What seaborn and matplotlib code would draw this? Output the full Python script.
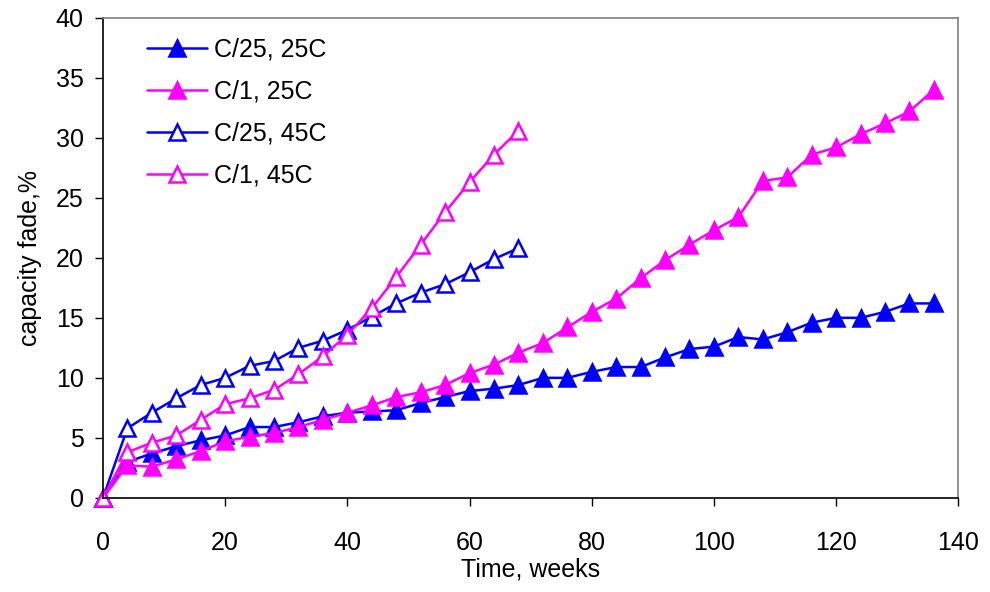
import numpy as np
import pandas as pd
import seaborn as sns
from matplotlib import pyplot as plt

# weeks (sampled every 4 weeks)
weeks_long = list(range(0, 137, 4))
weeks_short = list(range(0, 69, 4))

# C/25, 25C
c25_25 = [0, 3.0, 3.7, 4.3, 4.8, 5.2, 5.9, 5.9, 6.3, 6.8, 7.1, 7.2, 7.3, 7.9, 8.4,
          8.9, 9.1, 9.4, 10.0, 10.0, 10.5, 10.9, 10.9, 11.7, 12.4, 12.6, 13.4, 13.2,
          13.8, 14.6, 15.0, 15.0, 15.5, 16.2, 16.2]
# C/1, 25C
c1_25 = [0, 2.7, 2.6, 3.2, 3.9, 4.7, 5.1, 5.4, 5.9, 6.5, 7.1, 7.7, 8.4, 8.8, 9.4,
         10.4, 11.1, 12.1, 12.9, 14.2, 15.5, 16.6, 18.3, 19.8, 21.1, 22.3, 23.4, 26.4,
         26.7, 28.6, 29.2, 30.3, 31.2, 32.2, 34.0]
# C/25, 45C
c25_45 = [0, 5.8, 7.1, 8.3, 9.4, 10.0, 11.0, 11.4, 12.5, 13.1, 14.0, 15.1, 16.2,
          17.1, 17.8, 18.8, 19.9, 20.8]
# C/1, 45C
c1_45 = [0, 3.8, 4.6, 5.2, 6.5, 7.8, 8.3, 9.0, 10.3, 11.8, 13.6, 15.8, 18.4, 21.1,
         23.8, 26.3, 28.6, 30.6]

labels = ['C/25, 25C', 'C/1, 25C', 'C/25, 45C', 'C/1, 45C']
blue = '#0000FF'
pink = '#FF00FF'

sns.set_style('white')
plt.rcParams['font.family'] = ['Liberation Sans', 'DejaVu Sans']
plt.rcParams['text.color'] = 'black'
plt.rcParams['axes.labelcolor'] = 'black'
plt.rcParams['xtick.color'] = 'black'
plt.rcParams['ytick.color'] = 'black'

fig, ax = plt.subplots(figsize=(9.9, 5.92), dpi=100)
fig.subplots_adjust(left=0.104, right=0.968, top=0.97, bottom=0.159)

series = [
    (weeks_long, c25_25, blue, blue),
    (weeks_long, c1_25, pink, pink),
    (weeks_short, c25_45, blue, 'white'),
    (weeks_short, c1_45, pink, 'white'),
]
for (x, y, col, face), lab in zip(series, labels):
    df = pd.DataFrame({'week': x, 'fade': y})
    sns.lineplot(data=df, x='week', y='fade', ax=ax, color=col, linewidth=1.8,
                 marker='^', markersize=12, markerfacecolor=face,
                 markeredgecolor=col, markeredgewidth=1.8, label=lab)
for line in ax.lines:
    line.set_clip_on(False)

ax.set_xlim(0, 140)
ax.set_ylim(0, 40)
ax.set_xticks(np.arange(0, 141, 20))
ax.set_yticks(np.arange(0, 41, 5))
ax.tick_params(axis='both', labelsize=18, direction='out', length=6, width=1,
               bottom=True, left=True)
ax.tick_params(axis='x', pad=18)
ax.tick_params(axis='y', pad=8)
ax.set_xlabel('Time, weeks', fontsize=18, labelpad=2)
ax.set_ylabel('capacity fade,%', fontsize=18, labelpad=10)
ax.spines['left'].set_color('black')
ax.spines['bottom'].set_color('black')
ax.spines['top'].set_color('#808080')
ax.spines['right'].set_color('#808080')
for s in ax.spines.values():
    s.set_linewidth(1.2)

ax.legend(loc='upper left', bbox_to_anchor=(0.025, 1.005), frameon=False, fontsize=18,
          handlelength=2.4, labelspacing=0.72, handletextpad=0.3)

fig.savefig('out.png', dpi=100)
